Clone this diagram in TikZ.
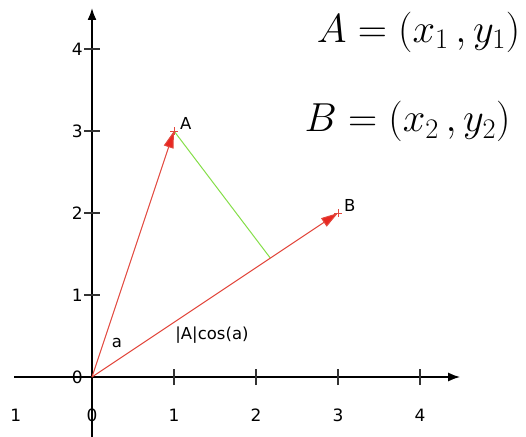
\RequirePackage{fix-cm}
\documentclass[tikz,border=0pt]{standalone}
\usepackage{fontspec}
\newfontfamily\lblfont{DejaVu Sans}
\usetikzlibrary{arrows.meta, calc}

\definecolor{vecred}{RGB}{226,72,62}
\definecolor{headred}{RGB}{232,40,34}
\definecolor{projgreen}{RGB}{132,222,72}

\tikzset{
    axis/.style={line width=1.8pt, -{Latex[length=12pt,width=9pt]}},
    axtick/.style={line width=1.2pt, black!80},
    vec/.style={vecred, line width=1pt, -{Triangle[length=17pt,width=10pt,fill=headred]}},
    lbl/.style={font=\lblfont\fontsize{16.5}{16.5}\selectfont, inner sep=1pt},
    numlbl/.style={font=\lblfont\fontsize{17}{17}\selectfont, inner sep=1pt},
    formula/.style={font=\fontsize{40.5}{44}\selectfont, inner sep=0pt, anchor=base},
}

\begin{document}
\begin{tikzpicture}[x=82pt, y=82pt]
    \useasboundingbox (-92pt,-59pt) rectangle (434pt,377pt);

    % 坐标轴
    \draw[axis] (-0.95,0) -- (4.49,0);
    \draw[axis] (0,-0.75) -- (0,4.5);
    \foreach \i in {1,...,4} {
        \draw[axtick] ([yshift=-8pt]\i,0) -- ([yshift=8pt]\i,0);
        \draw[axtick] ([xshift=-8pt]0,\i) -- ([xshift=8pt]0,\i);
        \node[numlbl, left] at ([xshift=-8pt]0,\i) {\i};
        \node[numlbl] at ([yshift=-38pt]\i,0) {\i};
    }
    \node[numlbl, left] at ([xshift=-8pt]0,0) {0};
    \node[numlbl] at ([yshift=-38pt]0,0) {0};
    \node[numlbl] at ([yshift=-38pt]-0.93,0) {1};

    % 向量
    \coordinate (O) at (0,0);
    \coordinate (A) at (1,3);
    \coordinate (B) at (3,2);
    \coordinate (P) at ($(O)!0.725!(B)$);
    \draw[projgreen, line width=1pt] (A) -- (P);
    \draw[vec] (O) -- (A);
    \draw[vec] (O) -- (B);
    \foreach \p in {A,B}
        \draw[vecred, line width=0.8pt] ([xshift=-4pt]\p) -- ([xshift=4pt]\p)
            ([yshift=-4pt]\p) -- ([yshift=4pt]\p);

    \node[lbl, above right] (labA) at ([xshift=5pt]A) {A};
    \node[lbl, above right] (labB) at ([xshift=5pt]B) {B};
    \node[lbl] (ang) at (0.305,0.415) {a};
    \node[lbl] (proj) at (1.463,0.512) {|A|cos(a)};

    % 坐标
    \node[formula] (fA) at (3.982,4.085) {$A=(x_1\,,y_1)$};
    \node[formula] (fB) at (3.848,2.988) {$B=(x_2\,,y_2)$};
\end{tikzpicture}
\end{document}
